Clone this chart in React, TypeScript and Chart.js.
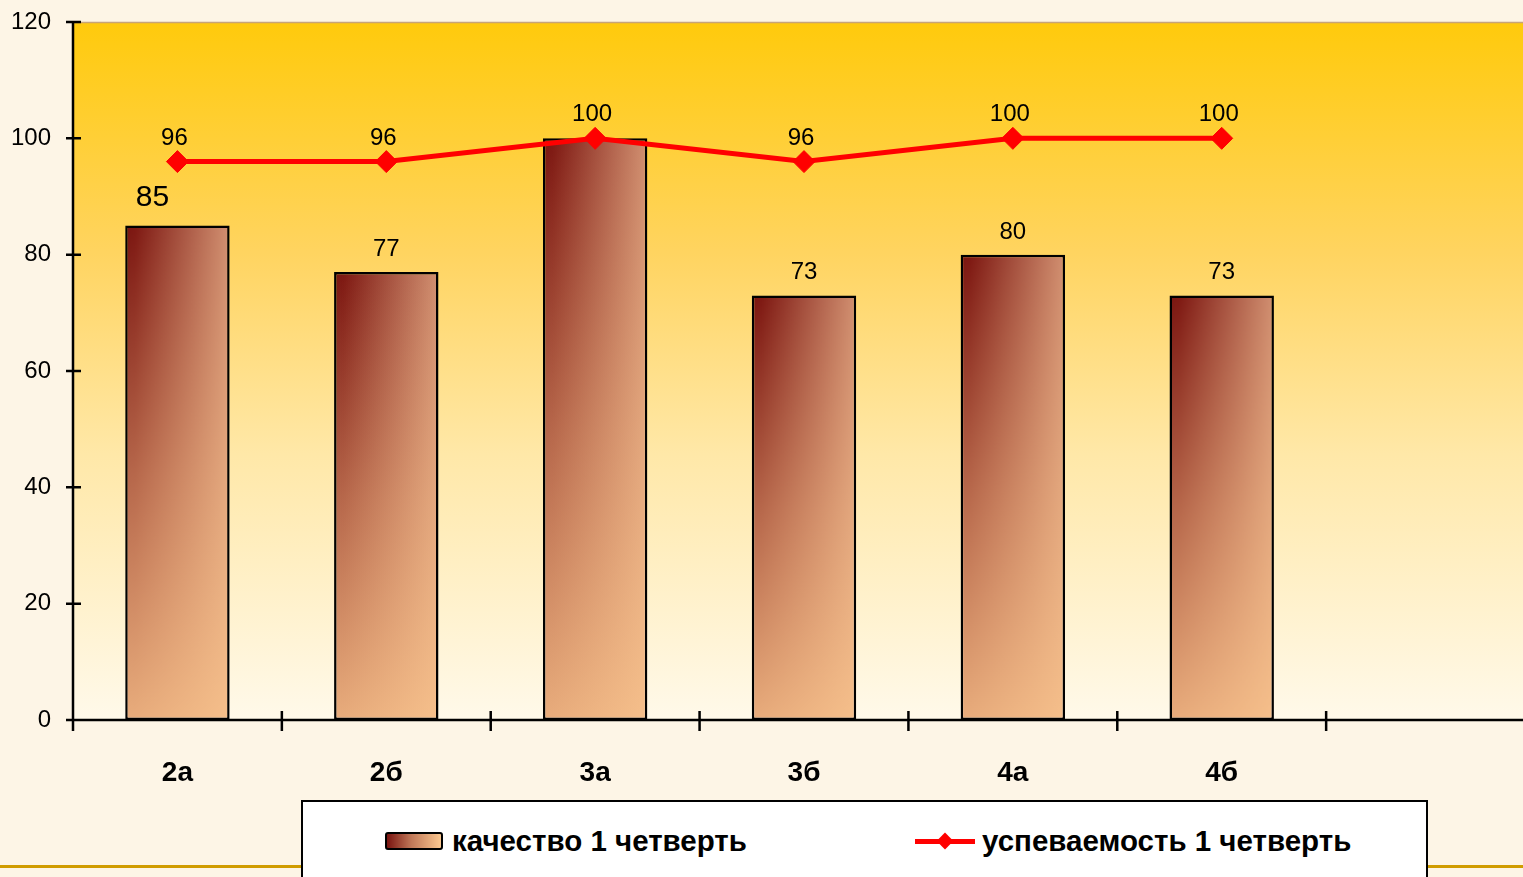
import React, { useEffect, useRef } from "react";
import { Chart, registerables } from "chart.js";

Chart.register(...registerables);

const categories = ["2а", "2б", "3а", "3б", "4а", "4б", ""];
const qualityValues = [85, 77, 100, 73, 80, 73, null];
const progressValues = [96, 96, 100, 96, 100, 100, null];
const yTicks = [0, 20, 40, 60, 80, 100, 120];
const seriesNames = ["качество 1 четверть", "успеваемость 1 четверть"];

const FONT = "Arial, 'Liberation Sans', sans-serif";
const CANVAS_W = 1540;
const CANVAS_H = 877;

function barFill(c: any) {
  const chart = c.chart;
  const xs = chart.scales && chart.scales.x;
  const ys = chart.scales && chart.scales.y;
  const v = c.raw;
  if (!xs || !ys || v == null || c.dataIndex == null || !chart.chartArea) return "#c07050";
  const slot = xs.getPixelForValue(1) - xs.getPixelForValue(0);
  const w = slot * 0.5;
  const cx = xs.getPixelForValue(c.dataIndex);
  const left = cx - w / 2;
  const top = ys.getPixelForValue(v);
  const bottom = ys.getPixelForValue(0);
  const off = document.createElement("canvas");
  off.width = Math.ceil(w) + 4;
  off.height = Math.ceil(bottom - top) + 4;
  const o = off.getContext("2d")!;
  const hg = o.createLinearGradient(0, 0, off.width, 0);
  hg.addColorStop(0, "#781410");
  hg.addColorStop(0.1, "#7e1812");
  hg.addColorStop(1, "#d49474");
  o.fillStyle = hg;
  o.fillRect(0, 0, off.width, off.height);
  const vg = o.createLinearGradient(0, 0, 0, off.height);
  vg.addColorStop(0, "rgba(252,200,144,0)");
  vg.addColorStop(0.5, "rgba(252,200,144,0.45)");
  vg.addColorStop(1, "rgba(252,200,144,0.85)");
  o.fillStyle = vg;
  o.fillRect(0, 0, off.width, off.height);
  const pat = chart.ctx.createPattern(off, "no-repeat");
  if (!pat) return "#c07050";
  pat.setTransform(new DOMMatrix([1, 0, 0, 1, left - 1, top - 1]));
  return pat;
}

const plotBackground = {
  id: "plotBackground",
  beforeDatasetsDraw(chart: any) {
    const { ctx, chartArea } = chart;
    const { left, top, right, bottom } = chartArea;
    ctx.save();
    const g = ctx.createLinearGradient(0, top, 0, bottom);
    g.addColorStop(0, "#ffca0c");
    g.addColorStop(0.33, "#ffd460");
    g.addColorStop(0.62, "#ffe8a8");
    g.addColorStop(1, "#fff9ea");
    ctx.fillStyle = g;
    ctx.fillRect(left, top, right - left, bottom - top);
    ctx.strokeStyle = "#c8a478";
    ctx.lineWidth = 1.5;
    ctx.beginPath();
    ctx.moveTo(left, top + 0.5);
    ctx.lineTo(chart.width, top + 0.5);
    ctx.stroke();
    ctx.restore();
  },
};

const axesPlugin = {
  id: "axesPlugin",
  afterDatasetsDraw(chart: any) {
    const { ctx, chartArea, scales } = chart;
    const { left, top, bottom } = chartArea;
    const xs = scales.x;
    const ys = scales.y;
    ctx.save();
    ctx.strokeStyle = "#000";
    ctx.lineWidth = 2.5;
    ctx.beginPath();
    ctx.moveTo(left, top);
    ctx.lineTo(left, bottom);
    ctx.moveTo(left, bottom);
    ctx.lineTo(chart.width, bottom);
    yTicks.forEach((t) => {
      const y = ys.getPixelForValue(t);
      ctx.moveTo(left - 7, y);
      ctx.lineTo(left + 8, y);
    });
    const slot = xs.getPixelForValue(1) - xs.getPixelForValue(0);
    for (let i = 0; i <= categories.length; i++) {
      const x = xs.getPixelForValue(0) - slot / 2 + i * slot;
      ctx.moveTo(x, i === 0 ? bottom : bottom - 9);
      ctx.lineTo(x, bottom + 11);
    }
    ctx.stroke();
    ctx.restore();
  },
};

const labelsPlugin = {
  id: "labelsPlugin",
  afterDraw(chart: any) {
    const { ctx } = chart;
    ctx.save();
    ctx.fillStyle = "#000";
    ctx.textAlign = "center";
    ctx.textBaseline = "alphabetic";
    const lineMeta = chart.getDatasetMeta(1);
    const barMeta = chart.getDatasetMeta(0);
    barMeta.data.forEach((el: any, i: number) => {
      const v = qualityValues[i];
      if (v == null) return;
      // label hidden under the line label where both coincide
      if (progressValues[i] != null && v === progressValues[i]) return;
      const big = i === 0;
      ctx.font = `${big ? 30 : 24}px ${FONT}`;
      ctx.fillText(String(v), el.x - (big ? 25 : 0), el.y - (big ? 20 : 16));
    });
    lineMeta.data.forEach((el: any, i: number) => {
      const v = progressValues[i];
      if (v == null) return;
      ctx.font = `24px ${FONT}`;
      ctx.fillText(String(v), el.x - 3, el.y - 17);
    });
    ctx.restore();
  },
};

export default function App() {
  const ref = useRef<HTMLCanvasElement>(null);

  useEffect(() => {
    if (!ref.current) return;
    const chart = new Chart(ref.current, {
      type: "bar",
      data: {
        labels: categories,
        datasets: [
          {
            type: "bar",
            label: seriesNames[0],
            data: qualityValues as any,
            backgroundColor: barFill as any,
            borderColor: "#000",
            borderWidth: 2.5,
            borderSkipped: false,
            barPercentage: 0.5,
            categoryPercentage: 1,
            order: 1,
          },
          {
            type: "line",
            label: seriesNames[1],
            data: progressValues as any,
            borderColor: "#ff0000",
            backgroundColor: "#ff0000",
            borderWidth: 5,
            pointStyle: "rectRot",
            pointRadius: 11,
            pointBorderWidth: 1,
            pointBackgroundColor: "#ff0000",
            pointBorderColor: "#ff0000",
            spanGaps: false,
            order: 0,
          } as any,
        ],
      },
      options: {
        responsive: false,
        animation: false,
        events: [],
        layout: { autoPadding: false, padding: { top: 22, right: 5, left: 0, bottom: 0 } } as any,
        plugins: {
          legend: { display: false },
          tooltip: { enabled: false },
          title: { display: false },
        },
        scales: {
          x: {
            type: "category",
            offset: true,
            grid: { display: false, offset: true },
            border: { display: false },
            ticks: {
              color: "#000",
              font: { family: FONT, size: 28, weight: "bold" },
              padding: 28,
              maxRotation: 0,
              autoSkip: false,
            },
            afterFit(scale: any) {
              scale.height = CANVAS_H - 720;
              scale.paddingLeft = 0;
              scale.paddingRight = 0;
            },
          },
          y: {
            min: 0,
            max: 120,
            grid: { display: false },
            border: { display: false },
            ticks: {
              stepSize: 20,
              color: "#000",
              font: { family: FONT, size: 24 },
              padding: 14,
            },
            afterFit(scale: any) {
              scale.width = 73;
              scale.paddingTop = 0;
              scale.paddingBottom = 0;
            },
          },
        },
      },
      plugins: [plotBackground, axesPlugin, labelsPlugin],
    } as any);
    return () => chart.destroy();
  }, []);

  return (
    <div
      style={{
        position: "fixed",
        left: 0,
        top: 0,
        width: 1523,
        height: 877,
        overflow: "hidden",
        background: "#fdf5e6",
        fontFamily: FONT,
      }}
    >
      <div
        style={{
          position: "absolute",
          left: 0,
          top: 865,
          width: 1523,
          height: 3,
          background: "#d09c00",
        }}
      />
      <canvas
        ref={ref}
        width={CANVAS_W}
        height={CANVAS_H}
        style={{ position: "absolute", left: 0, top: 0, width: CANVAS_W, height: CANVAS_H }}
      />
      <div
        style={{
          position: "absolute",
          left: 301,
          top: 800,
          width: 1127,
          height: 100,
          background: "#ffffff",
          border: "2px solid #000",
          boxSizing: "border-box",
        }}
      >
        <div
          style={{
            position: "absolute",
            left: 82,
            top: 22,
            height: 34,
            display: "flex",
            alignItems: "center",
            whiteSpace: "nowrap",
          }}
        >
          <div
            style={{
              width: 54,
              height: 14,
              border: "2px solid #000",
              borderRadius: 3,
              background: "linear-gradient(to right, #7a1410, #c07858 45%, #fcc890)",
            }}
          />
          <span style={{ marginLeft: 9, fontSize: 29.5, fontWeight: "bold", color: "#000" }}>
            {seriesNames[0]}
          </span>
        </div>
        <div
          style={{
            position: "absolute",
            left: 612,
            top: 22,
            height: 34,
            display: "flex",
            alignItems: "center",
            whiteSpace: "nowrap",
          }}
        >
          <div style={{ position: "relative", width: 60, height: 20 }}>
            <div
              style={{
                position: "absolute",
                left: 0,
                top: 8,
                width: 60,
                height: 5,
                background: "#ff0000",
              }}
            />
            <div
              style={{
                position: "absolute",
                left: 23,
                top: 3,
                width: 14,
                height: 14,
                background: "#ff0000",
                transform: "rotate(45deg) scale(0.85)",
              }}
            />
          </div>
          <span style={{ marginLeft: 7, fontSize: 29.5, fontWeight: "bold", color: "#000" }}>
            {seriesNames[1]}
          </span>
        </div>
      </div>
    </div>
  );
}
